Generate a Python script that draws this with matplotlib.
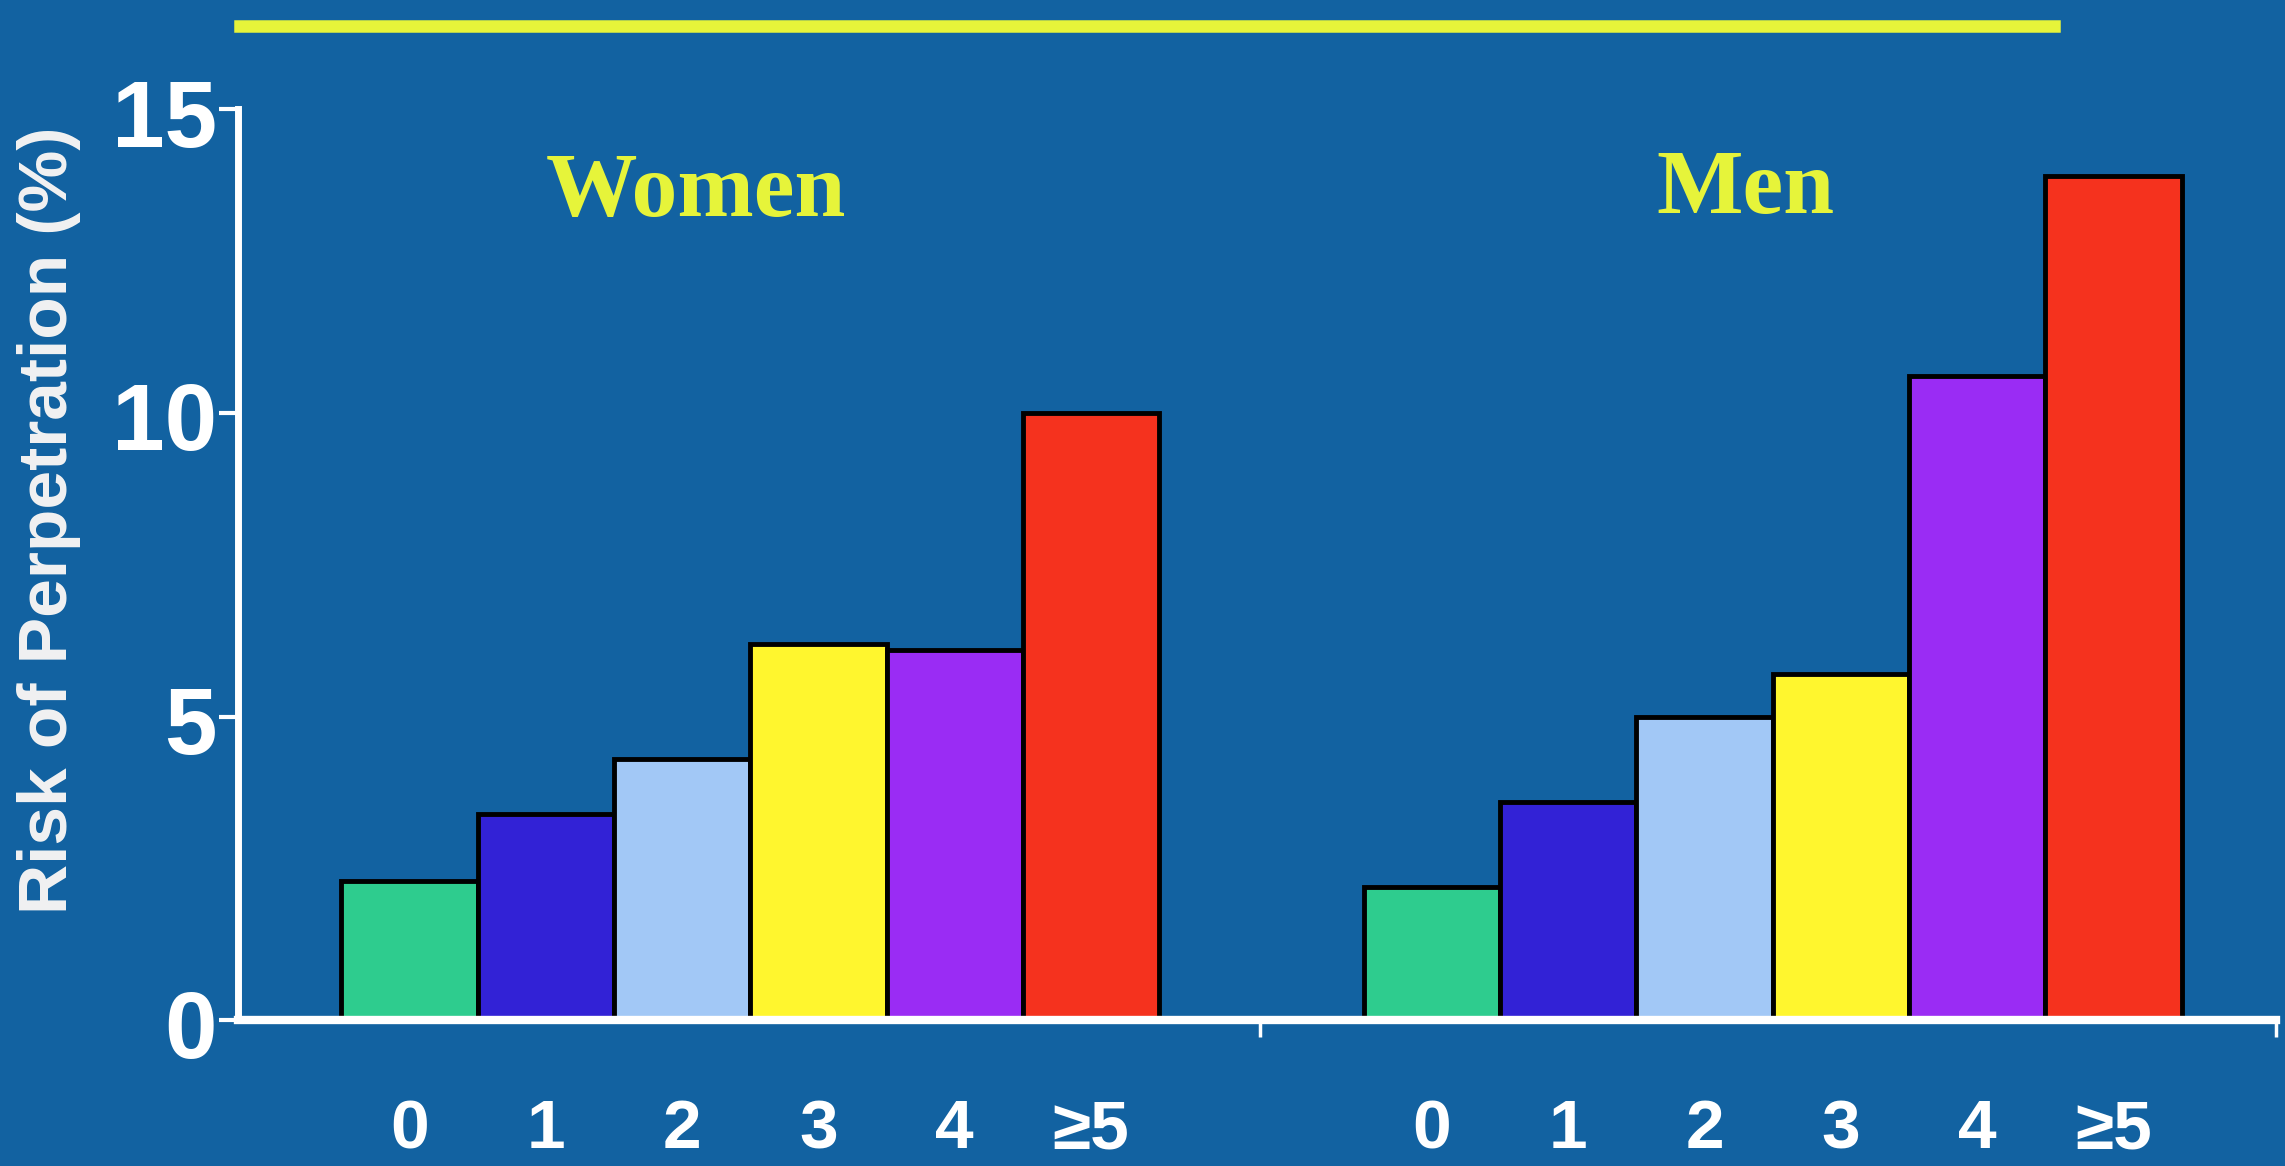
import matplotlib.pyplot as plt
from matplotlib.lines import Line2D
from matplotlib.transforms import ScaledTranslation

# risk of perpetration (%) by number of exposures
exposure_labels = ["0", "1", "2", "3", "4", "≥5"]
women_risk = [2.3, 3.4, 4.3, 6.2, 6.1, 10.0]
men_risk = [2.2, 3.6, 5.0, 5.7, 10.6, 13.9]
bar_colors = ["#2ecc8e", "#3222d6", "#a2c8f6", "#fff62e", "#9a2cf4", "#f5321e"]

bg = "#1262a1"
yellow = "#e6f43a"

fig = plt.figure(figsize=(22.85, 11.66), dpi=100, facecolor=bg)
ax = fig.add_axes([0.104, 0.125, 0.892, 0.7815], facecolor=bg)

women_x = [i for i in range(len(women_risk))]
men_x = [7.5 + i for i in range(len(men_risk))]

ax.bar(women_x, women_risk, width=1.0, color=bar_colors, edgecolor="black",
       linewidth=3.5, zorder=2)
ax.bar(men_x, men_risk, width=1.0, color=bar_colors, edgecolor="black",
       linewidth=3.5, zorder=2)

ax.set_xlim(-1.26, 13.69)
ax.set_ylim(0, 15)

# axes styling
for side in ["top", "right"]:
    ax.spines[side].set_visible(False)
ax.spines["left"].set_linewidth(5)
ax.spines["bottom"].set_linewidth(6)
for side in ["left", "bottom"]:
    ax.spines[side].set_color("white")
    ax.spines[side].set_zorder(3)

ax.set_yticks([0, 5, 10, 15])
ax.set_yticklabels(["0", "5", "10", "15"], fontsize=68, fontweight="bold",
                   family="Liberation Sans", color="white")
ax.tick_params(axis="y", direction="out", length=14, width=3, color="white",
               pad=1)
# nudge the y labels a little below their ticks
shift = ScaledTranslation(0, -3 / 100, fig.dpi_scale_trans)
for lbl in ax.get_yticklabels():
    lbl.set_transform(lbl.get_transform() + shift)

ax.set_xticks(women_x + men_x)
ax.set_xticklabels(exposure_labels + exposure_labels, fontsize=50,
                   fontweight="bold", family="Liberation Sans", color="white")
ax.tick_params(axis="x", length=0, pad=56)

# small break marks along the baseline
ax.set_xticks([6.24, 13.69], minor=True)
ax.tick_params(axis="x", which="minor", length=12, width=2.5, color="white")

ax.set_ylabel("Risk of Perpetration (%)", fontsize=50, fontweight="bold",
              family="Liberation Sans", color="#f2f2f2")
ax.yaxis.set_label_coords(-0.077, 0.549)

# group titles
ax.text(2.1, 13.6, "Women", ha="center", va="center", fontsize=66,
        fontweight="bold", family="Liberation Serif", color=yellow)
ax.text(9.8, 13.65, "Men", ha="center", va="center", fontsize=66,
        fontweight="bold", family="Liberation Serif", color=yellow)

# rule across the top
fig.add_artist(Line2D([0.105, 0.899], [0.978, 0.978], color=yellow,
                      linewidth=9, transform=fig.transFigure))

fig.savefig("out.png", dpi=100, facecolor=bg)
